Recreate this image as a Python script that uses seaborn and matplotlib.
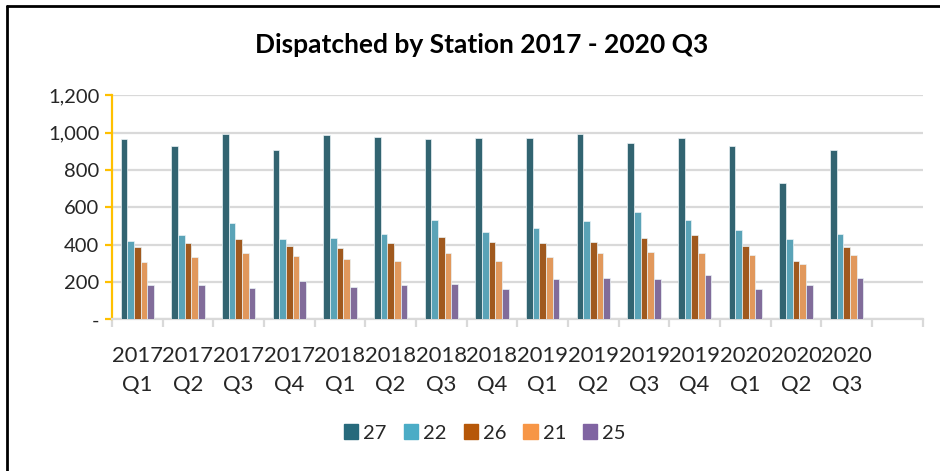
import numpy as np
import pandas as pd
import seaborn as sns
import matplotlib.pyplot as plt
from matplotlib.lines import Line2D
from matplotlib.ticker import FuncFormatter

quarters = ["2017\nQ1", "2017\nQ2", "2017\nQ3", "2017\nQ4",
            "2018\nQ1", "2018\nQ2", "2018\nQ3", "2018\nQ4",
            "2019\nQ1", "2019\nQ2", "2019\nQ3", "2019\nQ4",
            "2020\nQ1", "2020\nQ2", "2020\nQ3"]
stations = ["27", "22", "26", "21", "25"]

st27 = [964, 930, 993, 909, 986, 977, 964, 970, 970, 991, 943, 971, 930, 730, 909]
st22 = [421, 450, 518, 429, 436, 455, 530, 470, 491, 525, 573, 532, 477, 429, 455]
st26 = [388, 409, 429, 395, 380, 407, 443, 414, 407, 414, 436, 450, 395, 312, 388]
st21 = [305, 332, 354, 339, 325, 312, 354, 312, 332, 354, 361, 354, 346, 298, 346]
st25 = [182, 182, 168, 204, 175, 182, 189, 161, 216, 223, 216, 237, 161, 182, 223]

colors = ["#276A7C", "#4BACC6", "#B65708", "#F79646", "#8064A2"]

rows = []
for st, vals in zip(stations, [st27, st22, st26, st21, st25]):
    for q, v in zip(quarters, vals):
        rows.append({"quarter": q, "station": st, "count": v})
df = pd.DataFrame(rows)

# excel leaves one empty category slot at the right end
order = quarters + [" "]

sns.set_style("white")
plt.rcParams["font.family"] = ["Lato", "DejaVu Sans"]

fig = plt.figure(figsize=(9.4, 4.71), dpi=100)
ax = fig.add_axes([0.1191, 0.3221, 0.8625, 0.4756])

sns.barplot(data=df, x="quarter", y="count", hue="station", order=order,
            hue_order=stations, palette=colors, width=0.66,
            edgecolor="#EAF3F6", linewidth=0.5, ax=ax, zorder=3)

ax.set_xlim(-0.5, len(order) - 0.5)
ax.set_ylim(0, 1200)
ax.set_yticks(range(0, 1201, 200))
ax.yaxis.set_major_formatter(FuncFormatter(lambda v, p: "-" if v == 0 else f"{int(v):,}"))
ax.grid(axis="y", color="#D9D9D9", linewidth=1.6, zorder=0)
ax.set_axisbelow(True)
ax.set_xlabel("")
ax.set_ylabel("")

for s in ["top", "right"]:
    ax.spines[s].set_visible(False)
ax.spines["left"].set_color("#FFC000")
ax.spines["left"].set_linewidth(1.6)
ax.spines["bottom"].set_color("#D9D9D9")
ax.spines["bottom"].set_linewidth(1.6)

ax.tick_params(axis="y", which="major", left=True, length=5, width=1.6,
               color="#FFC000", labelsize=14.5, labelcolor="#262626", pad=4)
ax.set_xticks(range(len(order)))
ax.set_xticklabels(order)
ax.set_xticks(np.arange(-0.5, len(order), 1), minor=True)
ax.tick_params(axis="x", which="major", length=0, labelsize=15.8,
               labelcolor="#262626", pad=19)
ax.tick_params(axis="x", which="minor", bottom=True, length=6, width=1.6,
               color="#D9D9D9")
for lab in ax.get_xticklabels():
    lab.set_linespacing(1.6)

ax.get_legend().remove()
handles = [plt.Rectangle((0, 0), 1, 1, color=c) for c in colors]
fig.legend(handles, stations, loc="center", bbox_to_anchor=(485 / 940, 1 - 433 / 471),
           ncol=5, frameon=False, fontsize=14.5, handlelength=0.7, handleheight=0.7,
           handletextpad=0.25, columnspacing=0.85, labelcolor="#262626")

fig.text(482 / 940, 1 - 45 / 471, "Dispatched by Station 2017 - 2020 Q3",
         ha="center", va="center", fontsize=19, fontweight="bold", color="black")

# frame lines on top and left edge
fig.add_artist(Line2D([7 / 940, 7 / 940], [0, 1 - 6 / 471], color="black", linewidth=2))
fig.add_artist(Line2D([7 / 940, 1], [1 - 6 / 471, 1 - 6 / 471], color="black", linewidth=2))

fig.savefig("out.png", dpi=100)
